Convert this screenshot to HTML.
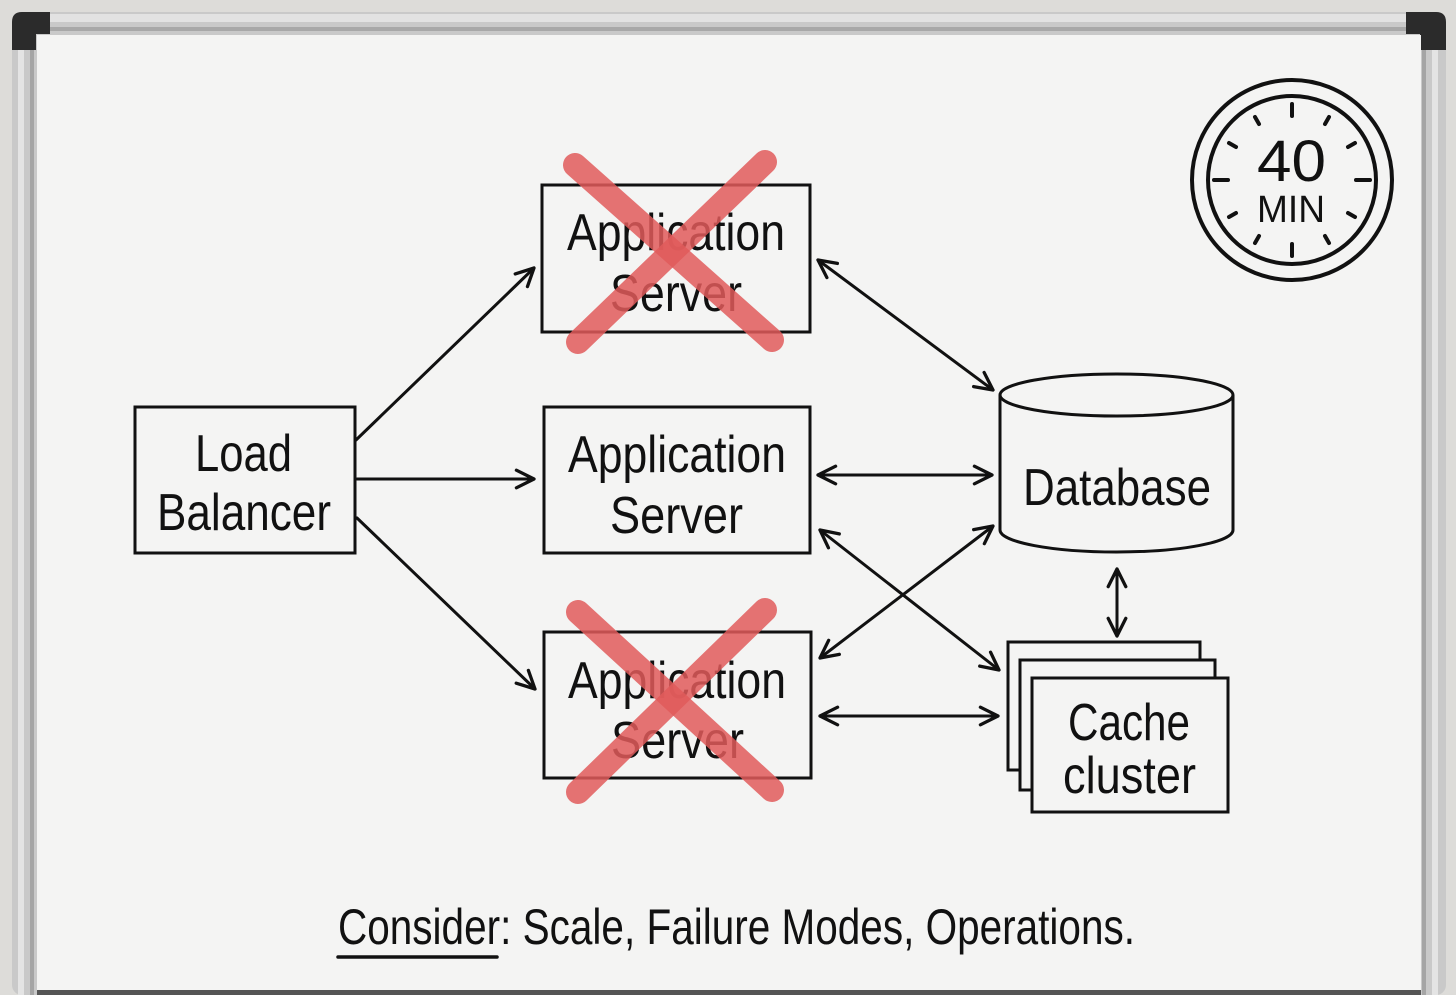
<!DOCTYPE html>
<html><head><meta charset="utf-8"><style>
html,body{margin:0;padding:0;background:#dcdbd8;}
svg{display:block}
text{font-family:"Liberation Sans",sans-serif;fill:#111;}
</style></head><body>
<svg width="1456" height="995" viewBox="0 0 1456 995" xmlns="http://www.w3.org/2000/svg">
<defs>
<marker id="a" viewBox="0 0 20 20" refX="18" refY="10" markerWidth="22" markerHeight="22" markerUnits="userSpaceOnUse" orient="auto-start-reverse">
<path d="M2,2 L18,10 L2,18" fill="none" stroke="#111" stroke-width="3" stroke-linecap="round" stroke-linejoin="round"/>
</marker>
</defs>
<rect x="0" y="0" width="1456" height="995" fill="#dddcd9"/>
<rect x="12" y="12" width="1434" height="983" rx="10" fill="#c9c9c9"/>
<rect x="14" y="14" width="1430" height="8" fill="#e2e2e2"/>
<rect x="14" y="27" width="1430" height="4" fill="#a8a8a8"/>
<rect x="18" y="14" width="6" height="981" fill="#e4e4e4"/>
<rect x="30" y="14" width="4" height="981" fill="#a5a5a5"/>
<rect x="1432" y="14" width="6" height="981" fill="#e4e4e4"/>
<rect x="1422" y="14" width="4" height="981" fill="#a5a5a5"/>
<path d="M12,50 L12,22 Q12,12 22,12 L50,12 L50,34 L36,34 L36,50 Z" fill="#2b2b2b"/>
<path d="M1446,50 L1446,22 Q1446,12 1436,12 L1406,12 L1406,34 L1420,34 L1420,50 Z" fill="#2b2b2b"/>
<rect x="37" y="35" width="1384" height="955" fill="#f4f4f3"/>
<rect x="37" y="990" width="1384" height="5" fill="#555"/>

<g fill="none" stroke="#111" stroke-width="3">
<rect x="135" y="407" width="220" height="146"/>
<rect x="542" y="185" width="268" height="147"/>
<rect x="544" y="407" width="266" height="146"/>
<rect x="544" y="632" width="267" height="146"/>
<path d="M1000,395 L1000,530 A116.5,22 0 0 0 1233,530 L1233,395"/>
<ellipse cx="1116.5" cy="395" rx="116.5" ry="21"/>
<rect x="1008" y="642" width="192" height="128" fill="#f4f4f3"/>
<rect x="1020" y="660" width="195" height="130" fill="#f4f4f3"/>
<rect x="1032" y="678" width="196" height="134" fill="#f4f4f3"/>
</g>

<g stroke="#111" stroke-width="3" fill="none" stroke-linecap="round">
<line x1="356" y1="440" x2="534" y2="268" marker-end="url(#a)"/>
<line x1="357" y1="479" x2="534" y2="479" marker-end="url(#a)"/>
<line x1="357" y1="518" x2="535" y2="689" marker-end="url(#a)"/>
<line x1="818" y1="260" x2="993" y2="390" marker-start="url(#a)" marker-end="url(#a)"/>
<line x1="818" y1="475" x2="992" y2="475" marker-start="url(#a)" marker-end="url(#a)"/>
<line x1="820" y1="530" x2="999" y2="670" marker-start="url(#a)"  marker-end="url(#a)"/>
<line x1="820" y1="658" x2="993" y2="526" marker-start="url(#a)" marker-end="url(#a)"/>
<line x1="820" y1="716" x2="998" y2="716" marker-start="url(#a)" marker-end="url(#a)"/>
<line x1="1117" y1="569" x2="1117" y2="636" marker-start="url(#a)" marker-end="url(#a)"/>
</g>

<g font-size="52" lengthAdjust="spacingAndGlyphs">
<text x="195" y="471" textLength="97" lengthAdjust="spacingAndGlyphs">Load</text>
<text x="157" y="530" textLength="174" lengthAdjust="spacingAndGlyphs">Balancer</text>
<text x="567" y="250" textLength="218" lengthAdjust="spacingAndGlyphs">Application</text>
<text x="610" y="311" textLength="132" lengthAdjust="spacingAndGlyphs">Server</text>
<text x="568" y="472" textLength="218" lengthAdjust="spacingAndGlyphs">Application</text>
<text x="610" y="533" textLength="133" lengthAdjust="spacingAndGlyphs">Server</text>
<text x="568" y="698" textLength="218" lengthAdjust="spacingAndGlyphs">Application</text>
<text x="611" y="758" textLength="133" lengthAdjust="spacingAndGlyphs">Server</text>
<text x="1023" y="505" textLength="188" lengthAdjust="spacingAndGlyphs">Database</text>
<text x="1068" y="740" textLength="122" lengthAdjust="spacingAndGlyphs">Cache</text>
<text x="1063" y="793" textLength="133" lengthAdjust="spacingAndGlyphs">cluster</text>
</g>

<g stroke="#e05a5a" stroke-opacity="0.85" stroke-width="24" stroke-linecap="round">
<line x1="575" y1="165" x2="772" y2="340"/>
<line x1="765" y1="162" x2="578" y2="342"/>
<line x1="578" y1="612" x2="772" y2="790"/>
<line x1="765" y1="610" x2="578" y2="792"/>
</g>

<g fill="none" stroke="#111">
<circle cx="1292" cy="180" r="100" stroke-width="4"/>
<circle cx="1292" cy="180" r="84" stroke-width="4"/>
<g stroke-width="4" stroke-linecap="round">
<line x1="1292" y1="104" x2="1292" y2="116"/>
<line x1="1292" y1="244" x2="1292" y2="256"/>
<line x1="1214" y1="180" x2="1228" y2="180"/>
<line x1="1356" y1="180" x2="1370" y2="180"/>
<line x1="1255" y1="117" x2="1259" y2="124"/>
<line x1="1329" y1="117" x2="1325" y2="124"/>
<line x1="1229" y1="143" x2="1236" y2="147"/>
<line x1="1355" y1="143" x2="1348" y2="147"/>
<line x1="1229" y1="217" x2="1236" y2="213"/>
<line x1="1355" y1="217" x2="1348" y2="213"/>
<line x1="1255" y1="243" x2="1259" y2="236"/>
<line x1="1329" y1="243" x2="1325" y2="236"/>
</g>
</g>
<text x="1257" y="181" font-size="58" textLength="69" lengthAdjust="spacingAndGlyphs">40</text>
<text x="1257" y="222" font-size="38" textLength="68" lengthAdjust="spacingAndGlyphs">MIN</text>

<text x="338" y="944" font-size="50" textLength="797" lengthAdjust="spacingAndGlyphs">Consider: Scale, Failure Modes, Operations.</text>
<line x1="338" y1="957" x2="497" y2="957" stroke="#111" stroke-width="3.5" stroke-linecap="round"/>
</svg>
</body></html>
